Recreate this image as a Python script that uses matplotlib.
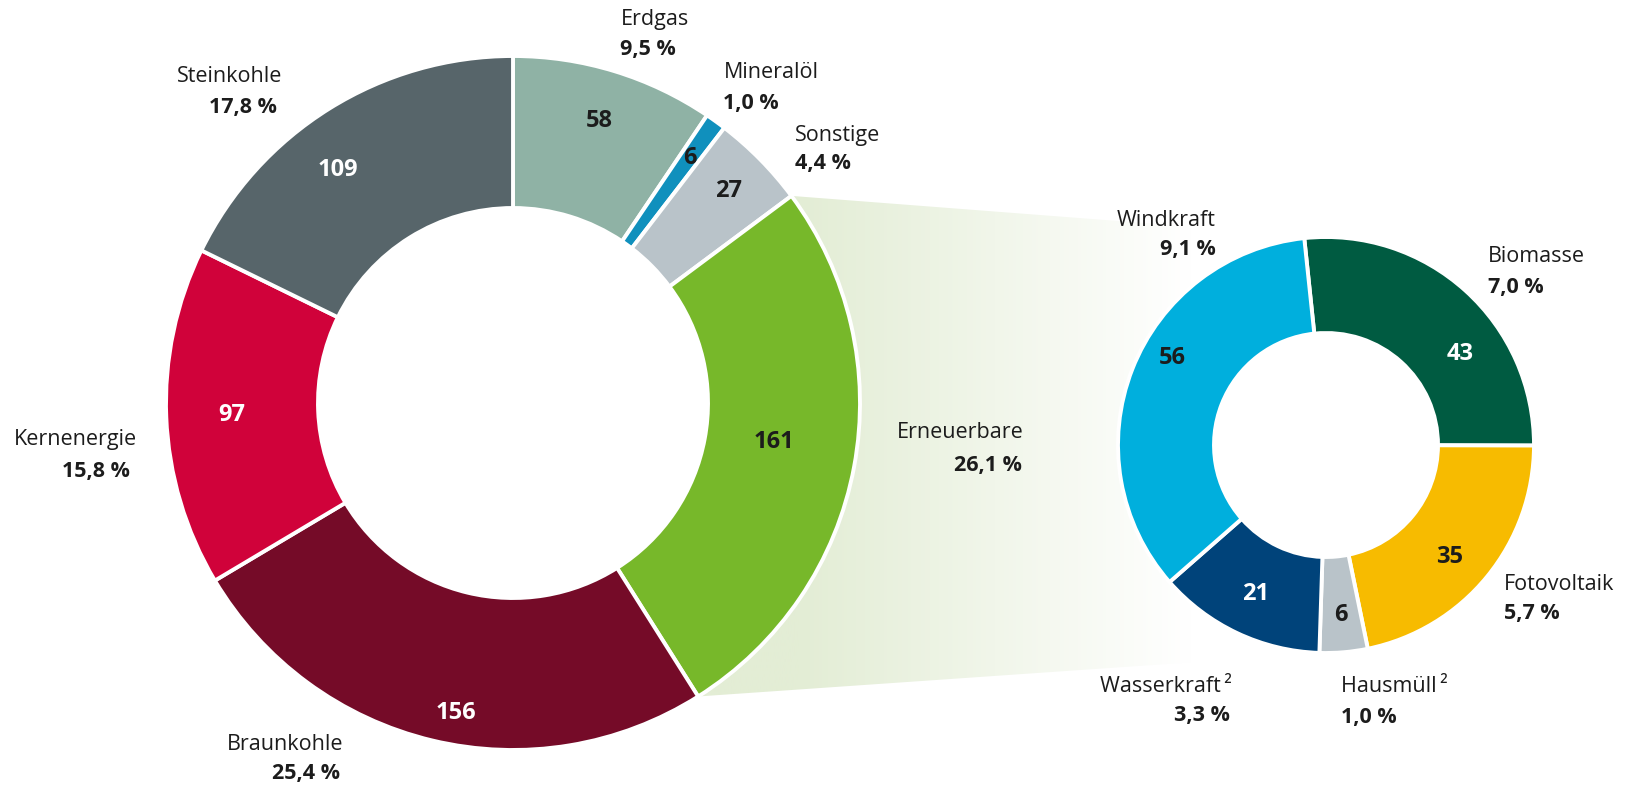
import numpy as np
import matplotlib
matplotlib.use("Agg")
import matplotlib.pyplot as plt
from matplotlib.patches import Polygon

# --- DATA ---
main_labels = ["Erdgas", "Mineralöl", "Sonstige", "Erneuerbare", "Braunkohle", "Kernenergie", "Steinkohle"]
main_values = [58, 6, 27, 161, 156, 97, 109]
main_shares = ["9,5 %", "1,0 %", "4,4 %", "26,1 %", "25,4 %", "15,8 %", "17,8 %"]

renew_labels = ["Biomasse", "Fotovoltaik", "Hausmüll\u2009²", "Wasserkraft\u2009²", "Windkraft"]
renew_values = [43, 35, 6, 21, 56]
renew_shares = ["7,0 %", "5,7 %", "1,0 %", "3,3 %", "9,1 %"]

# --- STYLE ---
W, H = 1630, 786
FONT = "Open Sans"
TEXT_DARK = "#1c1c1c"

main_colors = ["#8fb2a5", "#1090bd", "#b9c3c9", "#77b82a", "#750b28", "#d0023a", "#57656a"]
main_num_colors = [TEXT_DARK, TEXT_DARK, TEXT_DARK, TEXT_DARK, "white", "white", "white"]
renew_colors = ["#005b41", "#f7bb00", "#b9c3c9", "#00437a", "#00afdd"]
renew_num_colors = ["white", TEXT_DARK, TEXT_DARK, "white", TEXT_DARK]

# donut geometry in pixel space (y measured from top)
MAIN_C = (513, 403)
MAIN_R, MAIN_HOLE = 347, 195
REN_C = (1326, 445)
REN_R, REN_HOLE = 208, 112

# number placement: (angle nudge in degrees, radius fraction)
main_num_place = [(0, 0.85), (0, 0.87), (0, 0.87), (2, 0.76), (3, 0.91), (0, 0.81), (5, 0.84)]
renew_num_place = [(-14, 0.78), (-3, 0.80), (0, 0.82), (0, 0.79), (-8, 0.85)]

# label anchors: (x, y_name, ha, x_pct, y_pct)
main_label_pos = [
    (621, 20, "left", 620, 50),
    (724, 72, "left", 723, 103),
    (795, 135, "left", 795, 164),
    (1024, 432, "right", 1022, 465),
    (343, 745, "right", 340, 774),
    (137, 440, "right", 130, 472),
    (282, 77, "right", 277, 108),
]
renew_label_pos = [
    (1488, 257, "left", 1488, 288),
    (1504, 584, "left", 1504, 614),
    (1341, 686, "left", 1341, 718),
    (1232, 686, "right", 1230, 716),
    (1216, 220, "right", 1216, 249),
]


def up(y):
    # convert pixel-from-top to data y
    return H - y


fig = plt.figure(figsize=(W / 100, H / 100), dpi=100)
fig.patch.set_facecolor("white")
ax = fig.add_axes([0, 0, 1, 1])

main_center = (MAIN_C[0], up(MAIN_C[1]))
ren_center = (REN_C[0], up(REN_C[1]))

wedges_main, _ = ax.pie(
    main_values, colors=main_colors, startangle=90, counterclock=False,
    radius=MAIN_R, center=main_center,
    wedgeprops=dict(width=MAIN_R - MAIN_HOLE, edgecolor="white", linewidth=2.8, zorder=2),
)
wedges_ren, _ = ax.pie(
    renew_values, colors=renew_colors, startangle=96, counterclock=False,
    radius=REN_R, center=ren_center,
    wedgeprops=dict(width=REN_R - REN_HOLE, edgecolor="white", linewidth=2.8, zorder=2),
)

# --- connecting band from "Erneuerbare" to the breakdown donut ---
ern = wedges_main[main_labels.index("Erneuerbare")]
arc = np.radians(np.linspace(ern.theta2, ern.theta1, 60))
arc_pts = np.column_stack([main_center[0] + MAIN_R * np.cos(arc),
                           main_center[1] + MAIN_R * np.sin(arc)])
band_pts = np.vstack([
    arc_pts,
    [[ren_center[0], ren_center[1] - REN_R], [ren_center[0], ren_center[1] + REN_R]],
])
band = Polygon(band_pts, closed=True, facecolor="none", edgecolor="none")
ax.add_patch(band)

xs = np.linspace(main_center[0], ren_center[0], 400)
t = np.clip((xs - 800) / (1190 - 800), 0, 1)[:, None]
green = np.array([227, 237, 213]) / 255.0
grad = green * (1 - t) + np.ones(3) * t
img = ax.imshow(grad[np.newaxis, :, :], extent=(xs[0], xs[-1], 0, H),
                aspect="auto", interpolation="bilinear", zorder=0)
img.set_clip_path(band)


# --- value labels inside the segments ---
def put_numbers(wedges, values, colors, place, center, radius):
    for w, v, c, (nudge, frac) in zip(wedges, values, colors, place):
        ang = np.radians((w.theta1 + w.theta2) / 2 + nudge)
        r = frac * radius
        ax.text(center[0] + r * np.cos(ang), center[1] + r * np.sin(ang), str(v),
                ha="center", va="center", fontsize=17, fontweight="bold",
                color=c, family=FONT, zorder=5)


put_numbers(wedges_main, main_values, main_num_colors, main_num_place, main_center, MAIN_R)
put_numbers(wedges_ren, renew_values, renew_num_colors, renew_num_place, ren_center, REN_R)


# --- category labels with shares ---
def put_labels(labels, shares, positions):
    for name, share, (x, yn, ha, xp, yp) in zip(labels, shares, positions):
        ax.text(x, up(yn), name, ha=ha, va="center", fontsize=15.5,
                color=TEXT_DARK, family=FONT)
        ax.text(xp, up(yp), share, ha=ha, va="center", fontsize=15.5,
                fontweight="bold", color=TEXT_DARK, family=FONT)


put_labels(main_labels, main_shares, main_label_pos)
put_labels(renew_labels, renew_shares, renew_label_pos)

ax.set_xlim(0, W)
ax.set_ylim(0, H)
ax.set_aspect("equal")
ax.axis("off")

fig.savefig("out.png", dpi=100, facecolor="white")
